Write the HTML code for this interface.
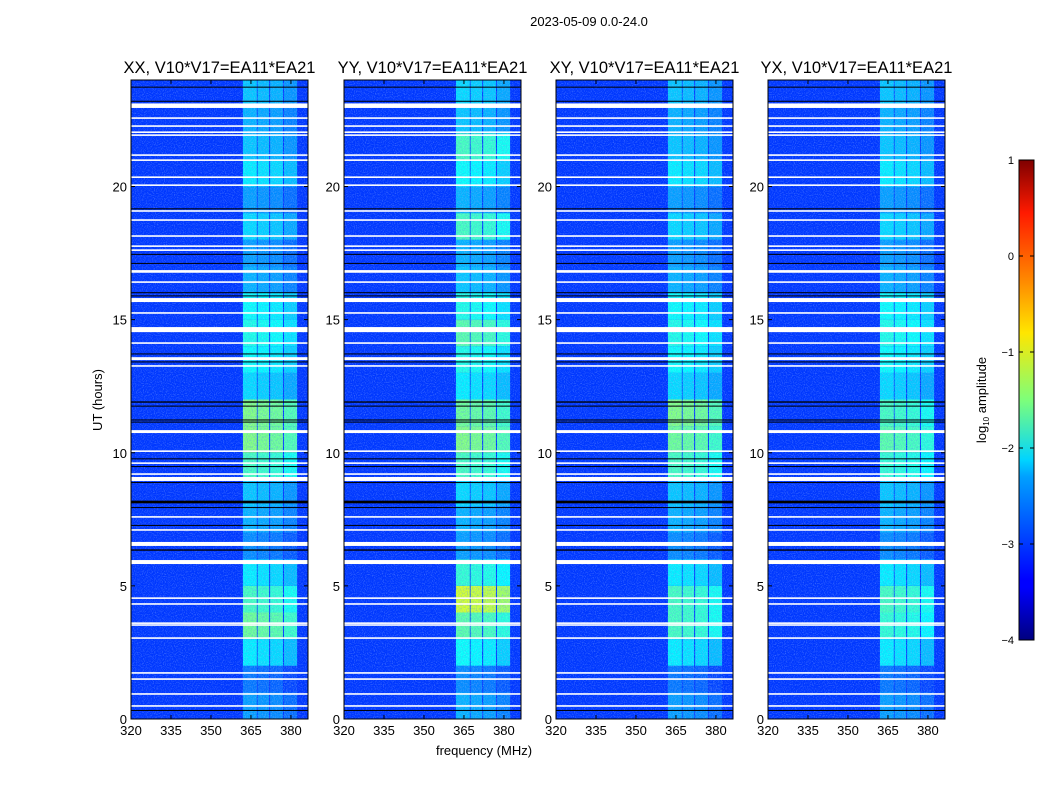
<!DOCTYPE html>
<html><head><meta charset="utf-8">
<style>
body{margin:0;background:#fff;font-family:"Liberation Sans","DejaVu Sans",sans-serif;}
svg text{font-family:"Liberation Sans","DejaVu Sans",sans-serif;}
</style></head>
<body>
<svg id="fig" width="1050" height="800" viewBox="0 0 1050 800" xmlns="http://www.w3.org/2000/svg">
<defs>
<filter id="speck" x="0" y="0" width="100%" height="100%">
<feTurbulence type="fractalNoise" baseFrequency="0.9" numOctaves="1" seed="3" result="n"/>
<feColorMatrix in="n" type="matrix" values="0 0 0 0 0.6  0 0 0 0 0.8  0 0 0 0 1  0 0 0 1.6 -0.75"/>
</filter>
<filter id="speck2" x="0" y="0" width="100%" height="100%">
<feTurbulence type="fractalNoise" baseFrequency="0.8 0.6" numOctaves="1" seed="7" result="n"/>
<feColorMatrix in="n" type="matrix" values="0 0 0 0 0.1  0 0 0 0 0.3  0 0 0 0 0.9  0 0 0 2.2 -1.0"/>
</filter>
<linearGradient id="jet" x1="0" y1="1" x2="0" y2="0">
<stop offset="0" stop-color="#00007f"/><stop offset="0.11" stop-color="#0000ff"/>
<stop offset="0.125" stop-color="#0000ff"/><stop offset="0.34" stop-color="#00a0ff"/>
<stop offset="0.375" stop-color="#00d4ff"/><stop offset="0.5" stop-color="#7dff7a"/>
<stop offset="0.64" stop-color="#ffe600"/><stop offset="0.75" stop-color="#ff8800"/>
<stop offset="0.89" stop-color="#ff1a00"/><stop offset="1" stop-color="#7f0000"/>
</linearGradient>
</defs>
<text x="589" y="26" font-size="13" text-anchor="middle">2023-05-09 0.0-24.0</text>
<text x="484" y="755" font-size="13" text-anchor="middle">frequency (MHz)</text>
<text transform="translate(102,400) rotate(-90)" font-size="13" text-anchor="middle">UT (hours)</text>
<g id="panels"></g>
<g>
<rect x="1019" y="160" width="15" height="480" fill="url(#jet)" stroke="#000" stroke-width="1"/>
<text transform="translate(986,400) rotate(-90)" font-size="13" text-anchor="middle">log<tspan font-size="8" dy="3">10</tspan><tspan dy="-3"> amplitude</tspan></text>
<g id="cbticks"></g>
</g>
</svg>
<script>
// ---- data ----
const panelTitles = ["XX, V10*V17=EA11*EA21","YY, V10*V17=EA11*EA21","XY, V10*V17=EA11*EA21","YX, V10*V17=EA11*EA21"];
const xTicks = [320,335,350,365,380];
const yTicks = [0,5,10,15,20];
const cbTicks = [1,0,-1,-2,-3,-4];
const backgroundLevel = -3.1;
// bright channel sub-bands [startMHz, endMHz, offset]
const subBands = [[362,367.2,0.1],[367.5,371.8,0.05],[372.2,377,0.0],[377.4,382.3,-0.15]];
// hourly band level (log10 amplitude), hours 0..23
const levelXX = [-2.7,-2.9,-2.3,-1.7,-1.9,-2.3,-2.8,-2.6,-2.5,-1.9,-1.6,-1.6,-2.4,-2.2,-2.1,-2.2,-2.6,-2.7,-2.4,-2.7,-2.3,-2.5,-2.6,-2.5];
const levelYY = [-2.6,-2.8,-2.2,-1.8,-1.2,-2.0,-2.7,-2.6,-2.4,-1.9,-1.6,-1.7,-2.3,-2.1,-1.8,-2.1,-2.5,-2.6,-1.9,-2.6,-2.2,-1.9,-2.5,-2.4];
const levelXY = [-2.7,-2.9,-2.3,-1.9,-1.9,-2.3,-2.8,-2.6,-2.5,-1.9,-1.7,-1.6,-2.4,-2.2,-2.1,-2.2,-2.6,-2.7,-2.4,-2.7,-2.3,-2.5,-2.6,-2.5];
const levelYX = [-2.7,-2.9,-2.3,-2.0,-1.9,-2.3,-2.8,-2.6,-2.5,-2.0,-1.8,-1.9,-2.4,-2.2,-2.1,-2.2,-2.6,-2.7,-2.4,-2.7,-2.3,-2.5,-2.6,-2.5];
const panelLevels = [levelXX,levelYY,levelXY,levelYX];
// flagged (white) time rows [startHour, endHour]
const whiteRows = [[22.95,23.12],[22.54,22.6],[22.24,22.3],[22.01,22.07],[21.9,21.96],[21.15,21.21],[20.96,21.02],[20.32,20.38],[20.02,20.08],[19.05,19.11],[18.71,18.77],[18.11,18.17],[17.73,17.79],[17.58,17.64],[16.76,16.86],[16.38,16.44],[15.66,15.81],[15.22,15.28],[14.53,14.72],[14.09,14.15],[13.48,13.59],[13.23,13.29],[10.74,10.85],[10.03,10.09],[9.58,9.64],[9.17,9.23],[8.94,9.09],[7.56,7.62],[7.07,7.13],[6.5,6.65],[5.82,5.97],[4.51,4.57],[4.29,4.35],[3.57,3.63],[3.5,3.56],[3.01,3.07],[1.7,1.76],[1.47,1.53],[0.91,0.97],[0.46,0.52]];
// dark (black) rows [startHour, endHour]
const blackRows = [[23.72,23.75],[23.19,23.22],[19.15,19.18],[17.44,17.47],[17.1,17.13],[16.0,16.03],[15.88,15.91],[13.7,13.73],[13.4,13.43],[11.88,11.93],[11.74,11.77],[11.22,11.25],[11.14,11.17],[9.76,9.79],[9.47,9.5],[8.87,8.9],[8.1,8.2],[7.93,7.96],[7.26,7.29],[6.32,6.37],[0.31,0.34]];

// ---- scales ----
const panelX = [131,344,556,768];
const pw = 177, plotTop = 80, plotBottom = 719;
const fMin = 320, fMax = 386.4;
function xs(p,f){return panelX[p] + (f-fMin)/(fMax-fMin)*pw;}
function ys(h){return plotBottom - h/24*(plotBottom-plotTop);}
function jet(v){
  let t=(v+4)/5; t=Math.max(0,Math.min(1,t));
  const c=x=>Math.round(255*Math.max(0,Math.min(1,x)));
  return `rgb(${c(1.5-Math.abs(4*t-3))},${c(1.5-Math.abs(4*t-2))},${c(1.5-Math.abs(4*t-1))})`;
}
const NS="http://www.w3.org/2000/svg";
function mk(tag,attrs,parent){const e=document.createElementNS(NS,tag);for(const k in attrs)e.setAttribute(k,attrs[k]);parent.appendChild(e);return e;}
const root=document.getElementById('panels');
panelTitles.forEach((title,p)=>{
  const g=mk('g',{},root);
  
  
  const bg=mk('rect',{x:panelX[p],y:plotTop,width:pw,height:plotBottom-plotTop,fill:jet(backgroundLevel)},g);
  
  
  panelLevels[p].forEach((lv,h)=>{
    subBands.forEach((b,i)=>{
      const r=mk('rect',{x:xs(p,b[0]),y:ys(h+1),width:xs(p,b[1])-xs(p,b[0]),height:ys(h)-ys(h+1),fill:jet(lv+b[2])},g);
      
      
    });
  });
  const sp=mk('rect',{x:panelX[p],y:plotTop,width:pw,height:plotBottom-plotTop,filter:'url(#speck)',opacity:0.55},g);
  
  
  const sp2=mk('rect',{x:xs(p,subBands[0][0]),y:plotTop,width:xs(p,subBands[3][1])-xs(p,subBands[0][0]),height:plotBottom-plotTop,filter:'url(#speck2)',opacity:0.6},g);
  
  
  blackRows.forEach(r=>{
    const e=mk('rect',{x:panelX[p],y:ys(r[1]),width:pw,height:Math.max(1,ys(r[0])-ys(r[1])),fill:'#000'},g);
    
    
  });
  whiteRows.forEach(r=>{
    const e=mk('rect',{x:panelX[p],y:ys(r[1]),width:pw,height:Math.max(1.2,ys(r[0])-ys(r[1])),fill:'#fff'},g);
    
    
  });
  const fr=mk('rect',{x:panelX[p],y:plotTop,width:pw,height:plotBottom-plotTop,fill:'none',stroke:'#000','stroke-width':1},g);
  
  
  const t=mk('text',{x:panelX[p]+pw/2,y:73,'font-size':16.5,'text-anchor':'middle'},g);
  t.textContent=title;
  
  
  xTicks.forEach(v=>{
    const x=xs(p,v);
    mk('line',{x1:x,x2:x,y1:plotBottom,y2:plotBottom-4,stroke:'#000'},g);
    mk('line',{x1:x,x2:x,y1:plotTop,y2:plotTop+4,stroke:'#000'},g);
    const tl=mk('text',{x:x,y:plotBottom+16,'font-size':13,'text-anchor':'middle'},g);
    tl.textContent=v;
    
    
  });
  yTicks.forEach(v=>{
    const y=ys(v);
    mk('line',{x1:panelX[p],x2:panelX[p]+4,y1:y,y2:y,stroke:'#000'},g);
    mk('line',{x1:panelX[p]+pw,x2:panelX[p]+pw-4,y1:y,y2:y,stroke:'#000'},g);
    const tl=mk('text',{x:panelX[p]-4,y:y+5,'font-size':13,'text-anchor':'end'},g);
    tl.textContent=v;
    
    
  });
});
const cb=document.getElementById('cbticks');
cbTicks.forEach(v=>{
  const y=640-(v+4)/5*480;
  mk('line',{x1:1019,x2:1023,y1:y,y2:y,stroke:'#000'},cb);
  mk('line',{x1:1030,x2:1034,y1:y,y2:y,stroke:'#000'},cb);
  const tl=mk('text',{x:1014,y:y+4,'font-size':11,'text-anchor':'end'},cb);
  tl.textContent=v<0?'\u2212'+(-v):String(v);
  
  
});
</script>
</body></html>
